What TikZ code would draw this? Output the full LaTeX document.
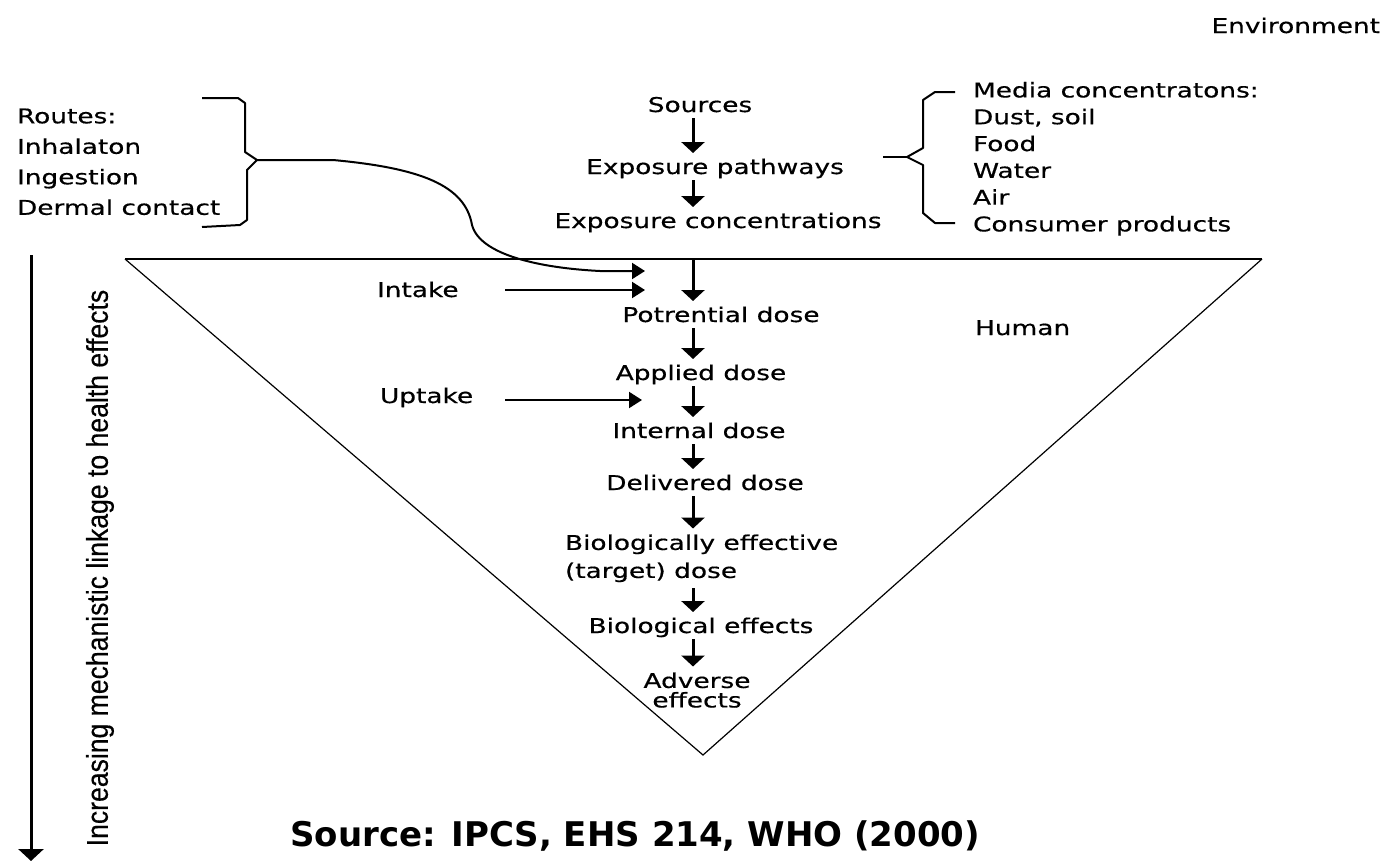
\documentclass[tikz,border=0pt]{standalone}
\usepackage{fontspec}
\setmainfont{DejaVu Sans}
\newfontfamily\pxfont[FakeStretch=1.3,FakeBold=0.5]{DejaVu Sans}
\newfontfamily\srcfont{DejaVu Sans}
\newfontfamily\narrowfont[FakeBold=0.4]{Liberation Sans}
\usetikzlibrary{arrows.meta}
\begin{document}
\begin{tikzpicture}[x=1pt,y=-1pt,
  lbl/.style={font=\pxfont\fontsize{20.3}{27}\selectfont, inner sep=0pt, outer sep=0pt,
              text height=15pt, text depth=0pt, inner ysep=6pt},
  mlbl/.style={font=\pxfont\fontsize{20.3}{#1}\selectfont, inner sep=0pt, outer sep=0pt, align=left},
  ctrl/.style={font=\pxfont\fontsize{20.3}{#1}\selectfont, inner xsep=0pt, inner ysep=6pt, outer sep=0pt, align=center},
  flow/.style={-{Triangle[width=23pt,length=11pt]}, line width=3pt},
  sflow/.style={-{Triangle[width=16pt,length=13pt]}, line width=2pt},
  brace/.style={line width=2pt, line join=round},
  tri/.style={line width=1.2pt}
]
\useasboundingbox (0,0) rectangle (1388,862);

% column for main arrows
\coordinate (ax) at (693,0);

% triangle
\coordinate (tl) at (125,259);
\coordinate (tr) at (1262,259);
\coordinate (apex) at (703,755);
\coordinate (t0) at (693,259);
\draw[line width=2.5pt] (tl) -- (tr);
\draw[tri] (tl) -- (apex) -- (tr);

% main chain
\node[lbl, anchor=base] (src) at (700,112) {Sources};
\node[lbl, anchor=base] (pw) at (715,174) {Exposure pathways};
\node[lbl, anchor=base] (ec) at (718,228) {Exposure concentrations};
\node[lbl, anchor=base] (pd) at (721,322) {Potrential dose};
\node[lbl, anchor=base] (ad) at (701,380) {Applied dose};
\node[lbl, anchor=base] (id) at (699,438) {Internal dose};
\node[lbl, anchor=base] (dd) at (705,490) {Delivered dose};
\node[mlbl=28, inner ysep=6pt, anchor=north west] (be) at (565,528.5) {Biologically effective\\(target) dose};
\node[lbl, anchor=base] (bf) at (701,633) {Biological effects};
\node[ctrl=19.5, anchor=north] (ae) at (697,666.5) {Adverse\\effects};

\draw[flow] (src.south -| ax) -- (pw.north -| ax);
\draw[flow] (pw.south -| ax) -- (ec.north -| ax);
\draw[flow] (t0) -- (pd.north -| ax);
\draw[flow] (pd.south -| ax) -- (ad.north -| ax);
\draw[flow] (ad.south -| ax) -- (id.north -| ax);
\draw[flow] (id.south -| ax) -- (dd.north -| ax);
\draw[flow] (dd.south -| ax) -- (be.north -| ax);
\draw[flow] (be.south -| ax) -- (bf.north -| ax);
\draw[flow] (bf.south -| ax) -- (ae.north -| ax);

% other labels
\node[lbl, anchor=base east] (env) at (1380,33) {Environment};
\node[lbl, anchor=base west] (hum) at (975,335) {Human};
\node[lbl, anchor=base west] (intake) at (377,297) {Intake};
\node[lbl, anchor=base west] (uptake) at (380,403) {Uptake};
\node[mlbl=30.5, anchor=north west] (routes) at (17,108.5) {Routes:\\Inhalaton\\Ingestion\\Dermal contact};
\node[mlbl=26.8, anchor=north west] (media) at (973,82) {Media concentratons:\\Dust, soil\\Food\\Water\\Air\\Consumer products};

% left brace (routes) and its curved connector
\coordinate (rtip) at (257,160);
\draw[brace] (202,98) -- (238,98) -- (245,103) -- (245,152) -- (rtip) -- (247,170) -- (247,220) -- (240,225) -- (202,227);
\coordinate (c1) at (645,271);
\draw[sflow] (rtip) -- (333,160) .. controls (420,168) and (465,185) .. (472,225)
   .. controls (480,255) and (540,268) .. (600,271) -- (c1);

% right brace (media)
\coordinate (mtip) at (907,157);
\draw[brace] (883,157) -- (mtip);
\draw[brace] (955,92) -- (935,92) -- (923,100) -- (923,148) -- (mtip) -- (923,165) -- (923,213) -- (935,223) -- (955,223);

% intake / uptake arrows
\coordinate (i1) at (505,290);
\coordinate (i2) at (645,290);
\draw[sflow] (i1) -- (i2);
\coordinate (u1) at (505,400);
\coordinate (u2) at (642,400);
\draw[sflow] (u1) -- (u2);

% left vertical arrow and label
\coordinate (lt) at (31,255);
\coordinate (lb) at (31,861);
\draw[-{Triangle[width=25pt,length=12pt]}, line width=3pt] (lt) -- (lb);
\node[rotate=90, inner sep=0pt, font=\narrowfont\fontsize{30}{36}\selectfont] (incr) at (100,568)
  {\scalebox{0.886}[1]{Increasing mechanistic linkage to health effects}};

% source
\node[anchor=base west, inner sep=0pt, font=\srcfont\bfseries\fontsize{34}{40}\selectfont] (source) at (290,846)
  {Source: IPCS, EHS 214, WHO (2000)};
\end{tikzpicture}
\end{document}
